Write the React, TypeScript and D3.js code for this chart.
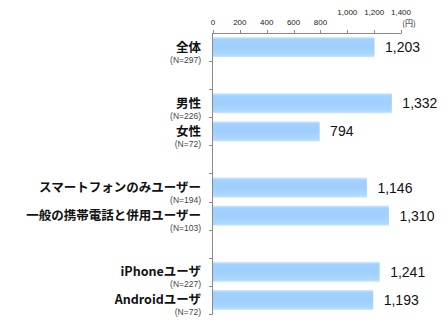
import React from "react";
import * as d3 from "d3";

const categories = ["全体", "", "男性", "女性", " ", "スマートフォンのみユーザー", "一般の携帯電話と併用ユーザー", "  ", "iPhoneユーザ", "Androidユーザ"];
const sampleSizes = ["(N=297)", "", "(N=226)", "(N=72)", "", "(N=194)", "(N=103)", "", "(N=227)", "(N=72)"];
const values: (number | null)[] = [1203, null, 1332, 794, null, 1146, 1310, null, 1241, 1193];
const tickValues = [0, 200, 400, 600, 800, 1000, 1200, 1400];
const unitLabel = "(円)";

const W = 448;
const H = 325;

export default function App() {
  const x = d3.scaleLinear().domain([0, 1400]).range([213, 401]);
  const pad = 0.29;
  const y = d3.scaleBand<string>().domain(categories).range([33, 314]).paddingInner(pad).paddingOuter(pad / 2);
  const step = y.step();
  const off = (step * pad) / 2;
  const fmt = d3.format(",");
  const axisColor = "#8a8a8a";

  return (
    <svg width={W} height={H} style={{ position: "absolute", left: 0, top: 0, background: "#fff" }}>
      <defs>
        <linearGradient id="barGrad" x1="0" y1="0" x2="0" y2="1">
          <stop offset="0" stopColor="#cfe8ff" />
          <stop offset="0.12" stopColor="#a3d1ff" />
          <stop offset="0.5" stopColor="#9fcfff" />
          <stop offset="0.88" stopColor="#acd8ff" />
          <stop offset="1" stopColor="#c8e5ff" />
        </linearGradient>
      </defs>
      {/* top axis */}
      <line x1={x(0)} x2={x(1400)} y1={33.5} y2={33.5} stroke={axisColor} strokeWidth={1} />
      {tickValues.map((t) => (
        <g key={t}>
          <line x1={Math.round(x(t)) + 0.5} x2={Math.round(x(t)) + 0.5} y1={30} y2={33.5} stroke={axisColor} />
          <text
            x={x(t)}
            y={t >= 1000 ? 15 : 25}
            fontSize={8}
            textAnchor="middle"
            fontFamily="Liberation Sans, Arial, sans-serif"
            fill="#222"
          >
            {fmt(t)}
          </text>
        </g>
      ))}
      <text x={409} y={26} fontSize={8} textAnchor="middle" fontFamily="Noto Sans CJK JP, sans-serif" fill="#222">
        {unitLabel}
      </text>
      {/* left axis */}
      <line x1={212.5} x2={212.5} y1={33} y2={314.5} stroke={axisColor} strokeWidth={1} />
      {categories.map((c, i) => {
        const b = (y(c) as number) - off + step;
        return <line key={"t" + i} x1={209} x2={212.5} y1={Math.round(b) + 0.5} y2={Math.round(b) + 0.5} stroke={axisColor} />;
      })}
      {categories.map((c, i) => {
        const v = values[i];
        const top = y(c) as number;
        const center = top - off + step / 2;
        return (
          <g key={"r" + i}>
            {v !== null && (
              <>
                <rect x={x(0)} y={top} width={x(v) - x(0)} height={y.bandwidth()} fill="url(#barGrad)" />
                <text
                  x={x(v) + 10.5}
                  y={center + 5}
                  fontSize={14}
                  fontFamily="Liberation Sans, Arial, sans-serif"
                  fill="#111"
                >
                  {fmt(v)}
                </text>
                <text
                  x={201}
                  y={center + 4.5}
                  fontSize={12.5}
                  fontWeight="bold"
                  textAnchor="end"
                  fontFamily="Noto Sans CJK JP, sans-serif"
                  fill="#111"
                >
                  {c}
                </text>
                <text
                  x={201}
                  y={center + 15.5}
                  fontSize={8.5}
                  textAnchor="end"
                  fontFamily="Liberation Sans, Arial, sans-serif"
                  fill="#444"
                >
                  {sampleSizes[i]}
                </text>
              </>
            )}
          </g>
        );
      })}
    </svg>
  );
}
